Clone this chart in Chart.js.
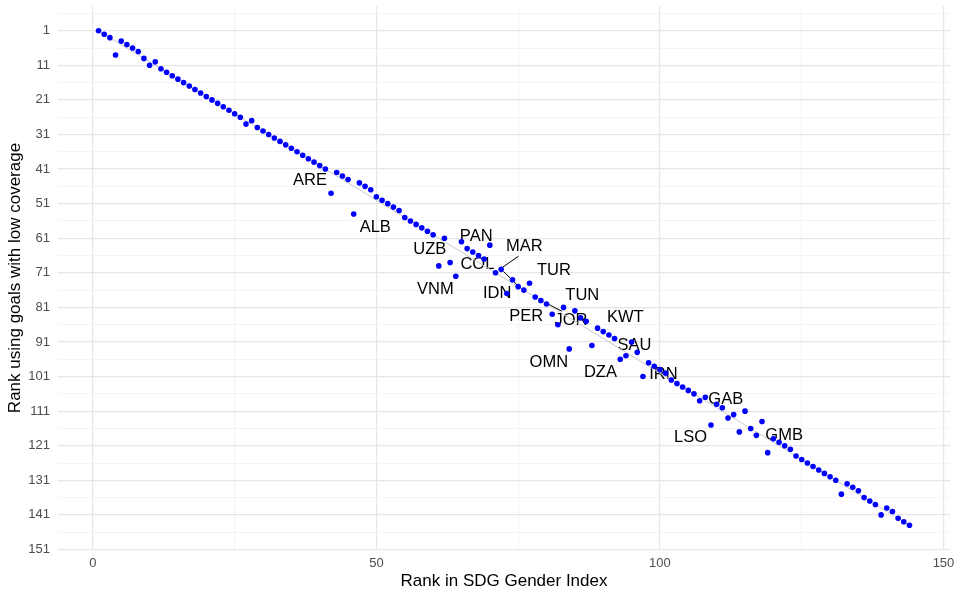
<!DOCTYPE html>
<html lang="en">
<head>
  <meta charset="UTF-8" />
  <title>Rank in SDG Gender Index vs rank using goals with low coverage</title>
  <script src="https://cdn.jsdelivr.net/npm/chart.js"></script>
  <style>
    html, body { margin: 0; padding: 0; background: #fff; }
  </style>
</head>
<body>
  <canvas id="chart" width="958" height="590"></canvas>
  <script>
    // x: rank in SDG Gender Index, y: rank using goals with low coverage
    const sdgRank = [
      1, 2, 3, 4, 5, 6, 7, 8, 9, 10, 11, 12, 13, 14, 15, 16, 17, 18, 19, 20,
      21, 22, 23, 24, 25, 26, 27, 28, 29, 30, 31, 32, 33, 34, 35, 36, 37, 38, 39, 40,
      41, 42, 43, 44, 45, 46, 47, 48, 49, 50, 51, 52, 53, 54, 55, 56, 57, 58, 59, 60,
      61, 62, 63, 64, 65, 66, 67, 68, 69, 70, 71, 72, 73, 74, 75, 76, 77, 78, 79, 80,
      81, 82, 83, 84, 85, 86, 87, 88, 89, 90, 91, 92, 93, 94, 95, 96, 97, 98, 99, 100,
      101, 102, 103, 104, 105, 106, 107, 108, 109, 110, 111, 112, 113, 114, 115, 116, 117, 118, 119, 120,
      121, 122, 123, 124, 125, 126, 127, 128, 129, 130, 131, 132, 133, 134, 135, 136, 137, 138, 139, 140,
      141, 142, 143, 144
    ];
    const coverageRank = [
      1, 2, 3, 8, 4, 5, 6, 7, 9, 11, 10, 12, 13, 14, 15, 16, 17, 18, 19, 20,
      21, 22, 23, 24, 25, 26, 28, 27, 29, 30, 31, 32, 33, 34, 35, 36, 37, 38, 39, 40,
      41, 48, 42, 43, 44, 54, 45, 46, 47, 49, 50, 51, 52, 53, 55, 56, 57, 58, 59, 60,
      69, 61, 68, 72, 62, 64, 65, 66, 67, 63, 71, 70, 77, 73, 75, 76, 74, 78, 79, 80,
      83, 86, 81, 93, 82, 84, 85, 92, 87, 88, 89, 90, 96, 95, 91, 94, 101, 97, 98, 99,
      100, 102, 103, 104, 105, 106, 108, 107, 115, 109, 110, 113, 112, 117, 111, 116, 118, 114, 123, 119,
      120, 121, 122, 124, 125, 126, 127, 128, 129, 130, 131, 135, 132, 133, 134, 136, 137, 138, 141, 139,
      140, 142, 143, 144
    ];

    const xTicks = [0, 50, 100, 150];
    const yTicks = [1, 11, 21, 31, 41, 51, 61, 71, 81, 91, 101, 111, 121, 131, 141, 151];

    // country labels (repelled text positions, in data units)
    const labelCodes = ['ARE', 'ALB', 'PAN', 'UZB', 'MAR', 'COL', 'TUR', 'VNM', 'IDN', 'TUN',
                        'PER', 'JOR', 'KWT', 'SAU', 'OMN', 'DZA', 'IRN', 'GAB', 'LSO', 'GMB'];
    const labelX = [38.3, 49.8, 67.6, 59.4, 76.1, 67.8, 81.3, 60.4, 71.3, 86.3,
                    76.4, 84.3, 93.9, 95.5, 80.4, 89.5, 100.6, 111.6, 105.4, 121.9];
    const labelY = [44.4, 58.0, 60.6, 64.3, 63.4, 68.6, 70.4, 75.7, 77.0, 77.6,
                    83.7, 84.8, 83.9, 92.0, 97.0, 99.8, 100.4, 107.6, 118.7, 118.1];
    const leaderFrom = [[71.9, 69.8], [72.4, 70.6], [80.0, 79.8]];
    const leaderTo = [[75.05, 66.2], [75.2, 75.1], [82.7, 82.1]];

    const FONT = '"Liberation Sans", Arial, sans-serif';
    const lo = -6.15, hi = 151.15;

    const points = sdgRank.map((x, i) => ({ x: x, y: coverageRank[i] }));
    const first = Math.min(...sdgRank), last = Math.max(...sdgRank);

    function withMinor(majors, step) {
      const out = [];
      majors.forEach(v => { out.push(v - step); out.push(v); });
      return out.filter(v => v >= lo && v <= hi).map(v => ({ value: v }));
    }

    const labelPlugin = {
      id: 'countryLabels',
      beforeDatasetsDraw(chart) {
        const { ctx, scales: { x, y } } = chart;
        ctx.save();
        ctx.strokeStyle = '#000';
        ctx.lineWidth = 1;
        leaderFrom.forEach((p, i) => {
          ctx.beginPath();
          ctx.moveTo(x.getPixelForValue(p[0]), y.getPixelForValue(p[1]));
          ctx.lineTo(x.getPixelForValue(leaderTo[i][0]), y.getPixelForValue(leaderTo[i][1]));
          ctx.stroke();
        });
        ctx.fillStyle = '#000';
        ctx.font = '16.5px ' + FONT;
        ctx.textAlign = 'center';
        ctx.textBaseline = 'middle';
        labelCodes.forEach((c, i) => {
          ctx.fillText(c, x.getPixelForValue(labelX[i]), y.getPixelForValue(labelY[i]));
        });
        ctx.restore();
      }
    };

    const gridColor = ctx => (ctx.tick && ctx.tick.label !== '' ? '#e6e6e6' : '#f1f1f1');
    const gridWidth = ctx => (ctx.tick && ctx.tick.label !== '' ? 1.2 : 0.8);

    new Chart(document.getElementById('chart'), {
      data: {
        datasets: [
          {
            type: 'line',
            data: [{ x: first, y: first }, { x: last, y: last }],
            borderColor: '#c8c8c8',
            borderWidth: 1,
            pointRadius: 0,
            order: 2
          },
          {
            type: 'scatter',
            data: points,
            backgroundColor: '#0000ff',
            borderWidth: 0,
            pointRadius: 2.8,
            order: 1
          }
        ]
      },
      options: {
        responsive: false,
        animation: false,
        devicePixelRatio: 1,
        layout: { padding: { top: 6, right: 8, left: 0, bottom: 0 } },
        plugins: { legend: { display: false }, tooltip: { enabled: false } },
        scales: {
          x: {
            type: 'linear',
            min: lo,
            max: hi,
            afterBuildTicks: s => { s.ticks = withMinor(xTicks, 25); },
            afterFit: s => { s.height = 40; s.paddingLeft = 0; s.paddingRight = 0; },
            border: { display: false },
            grid: { color: gridColor, lineWidth: gridWidth, drawTicks: false },
            ticks: {
              autoSkip: false,
              maxRotation: 0,
              padding: 6,
              color: '#4d4d4d',
              font: { family: FONT, size: 13 },
              callback: v => (xTicks.includes(v) ? String(v) : '')
            },
            title: {
              display: true,
              text: 'Rank in SDG Gender Index',
              color: '#000',
              font: { family: FONT, size: 17, lineHeight: 1 },
              padding: { top: 0, bottom: 0.5 }
            }
          },
          y: {
            type: 'linear',
            reverse: true,
            min: lo,
            max: hi,
            afterBuildTicks: s => { s.ticks = withMinor(yTicks, 5); },
            afterFit: s => { s.width = 58; s.paddingTop = 0; s.paddingBottom = 0; },
            border: { display: false },
            grid: { color: gridColor, lineWidth: gridWidth, drawTicks: false },
            ticks: {
              autoSkip: false,
              padding: 8,
              color: '#4d4d4d',
              font: { family: FONT, size: 13 },
              callback: v => (yTicks.includes(v) ? String(v) : '')
            },
            title: {
              display: true,
              text: 'Rank using goals with low coverage',
              color: '#000',
              font: { family: FONT, size: 17, lineHeight: 1.2 },
              padding: { top: 5, bottom: 0 }
            }
          }
        }
      },
      plugins: [labelPlugin]
    });
  </script>
</body>
</html>
